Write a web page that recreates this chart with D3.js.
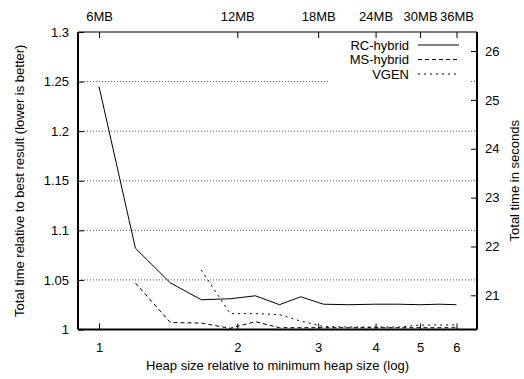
<!DOCTYPE html>
<html>
<head>
<meta charset="utf-8">
<script src="https://cdn.jsdelivr.net/npm/d3@7"></script>
<style>
  body { margin: 0; background: #fff; }
  svg { display: block; font-family: "Liberation Sans", Arial, sans-serif; }
</style>
</head>
<body>
<div id="chart"></div>
<script>
// heap size relative to the minimum heap (x), and the three collectors
const heapRatio = [1, 1.2, 1.43, 1.67, 1.93, 2.19, 2.47, 2.75, 3.08, 3.5, 4, 4.5, 5, 5.5, 6]
const rcHybrid = [1.245, 1.082, 1.047, 1.030, 1.031, 1.034, 1.025, 1.033, 1.0255, 1.025, 1.0255, 1.0255, 1.025, 1.0255, 1.025]
const msHybrid = [null, 1.047, 1.007, 1.0065, 1.0012, 1.0079, 1.0018, 1.0018, 1.0018, 1.0018, 1.0018, 1.0018, 1.0018, 1.0018, 1.0018]
const vgen = [null, null, null, 1.060, 1.016, 1.016, 1.015, 1.0085, 1.003, 1.0025, 1.0025, 1.0025, 1.0045, 1.0045, 1.0045]

const seriesNames = ["RC-hybrid", "MS-hybrid", "VGEN"]
const bottomTicks = [1, 2, 3, 4, 5, 6]
const topLabels = ["6MB", "12MB", "18MB", "24MB", "30MB", "36MB"]
const leftTicks = [1, 1.05, 1.1, 1.15, 1.2, 1.25, 1.3]
const gridTicks = [1.05, 1.1, 1.15, 1.2, 1.25]
const secondsTicks = [21, 22, 23, 24, 25, 26]
const bestSeconds = 20.3

const W = 524, H = 379
const margin = { top: 32, right: 47, bottom: 49.5, left: 78 }
const innerW = W - margin.left - margin.right
const innerH = H - margin.top - margin.bottom

const svg = d3.select("#chart").append("svg")
  .attr("width", W)
  .attr("height", H)

const g = svg.append("g")
  .attr("transform", `translate(${margin.left},${margin.top})`)

const x = d3.scaleLog().domain([0.9, 6.65]).range([0, innerW])
const y = d3.scaleLinear().domain([1, 1.3]).range([innerH, 0])
const ySec = d3.scaleLinear().domain([bestSeconds, bestSeconds * 1.3]).range([innerH, 0])

// grid
g.selectAll(".grid")
  .data(gridTicks)
  .join("line")
  .attr("class", "grid")
  .attr("x1", 0)
  .attr("x2", innerW)
  .attr("y1", d => y(d))
  .attr("y2", d => y(d))
  .attr("stroke", "#555")
  .attr("stroke-width", 1)
  .attr("stroke-dasharray", "1,2")

// legend background hides the grid under the key
g.append("rect")
  .attr("x", 329 - margin.left)
  .attr("y", 38 - margin.top)
  .attr("width", 140)
  .attr("height", 46)
  .attr("fill", "#fff")

function styleAxis(sel) {
  sel.select(".domain").remove()
  sel.selectAll(".tick line").attr("stroke", "#000")
  sel.selectAll(".tick text")
    .attr("fill", "#000")
    .style("font-size", "13px")
    .style("font-family", "'Liberation Sans', Arial, sans-serif")
}

g.append("g")
  .call(d3.axisLeft(y).tickValues(leftTicks).tickSize(-6).tickPadding(9).tickFormat(d3.format("")))
  .call(styleAxis)

g.append("g")
  .attr("transform", `translate(0,${innerH})`)
  .call(d3.axisBottom(x).tickValues(bottomTicks).tickSize(-6).tickPadding(13).tickFormat(d3.format("d")))
  .call(styleAxis)

g.append("g")
  .call(d3.axisTop(x).tickValues(bottomTicks).tickSize(-6).tickPadding(11).tickFormat((d, i) => topLabels[i]))
  .call(styleAxis)

g.append("g")
  .attr("transform", `translate(${innerW},0)`)
  .call(d3.axisRight(ySec).tickValues(secondsTicks).tickSize(-6).tickPadding(8).tickFormat(d3.format("d")))
  .call(styleAxis)

// border
g.append("line").attr("x1", 0).attr("x2", innerW).attr("y1", 0).attr("y2", 0)
  .attr("stroke", "#000").attr("stroke-width", 1)
g.append("line").attr("x1", 0).attr("x2", 0).attr("y1", 0).attr("y2", innerH)
  .attr("stroke", "#000").attr("stroke-width", 2)
g.append("line").attr("x1", innerW).attr("x2", innerW).attr("y1", 0).attr("y2", innerH)
  .attr("stroke", "#000").attr("stroke-width", 2)
g.append("line").attr("x1", 0).attr("x2", innerW).attr("y1", innerH).attr("y2", innerH)
  .attr("stroke", "#000").attr("stroke-width", 2)

// series
const dashes = [null, "4,3", "2,4"]
const seriesValues = [rcHybrid, msHybrid, vgen]

const line = d3.line()
  .defined(d => d[1] != null)
  .x(d => x(d[0]))
  .y(d => y(d[1]))

seriesValues.forEach(function (vals, i) {
  g.append("path")
    .datum(heapRatio.map((h, j) => [h, vals[j]]))
    .attr("d", line)
    .attr("fill", "none")
    .attr("stroke", "#000")
    .attr("stroke-width", 1)
    .attr("stroke-dasharray", dashes[i])
})

// legend
const legendRowY = [45, 59.5, 74]
seriesNames.forEach(function (name, i) {
  const ly = legendRowY[i] - margin.top
  g.append("text")
    .attr("x", 409 - margin.left)
    .attr("y", ly)
    .attr("dy", "0.35em")
    .attr("text-anchor", "end")
    .style("font-size", "13px")
    .text(name)
  g.append("line")
    .attr("x1", 418 - margin.left)
    .attr("x2", 459 - margin.left)
    .attr("y1", ly)
    .attr("y2", ly)
    .attr("stroke", "#000")
    .attr("stroke-dasharray", dashes[i])
})

// axis titles
svg.append("text")
  .attr("transform", `translate(24,${margin.top + innerH / 2}) rotate(-90)`)
  .attr("text-anchor", "middle")
  .style("font-size", "13px")
  .text("Total time relative to best result (lower is better)")

svg.append("text")
  .attr("transform", `translate(519,${margin.top + innerH / 2}) rotate(-90)`)
  .attr("text-anchor", "middle")
  .style("font-size", "13px")
  .text("Total time in seconds")

svg.append("text")
  .attr("x", margin.left + innerW / 2)
  .attr("y", 370)
  .attr("text-anchor", "middle")
  .style("font-size", "13px")
  .text("Heap size relative to minimum heap size (log)")
</script>
</body>
</html>
